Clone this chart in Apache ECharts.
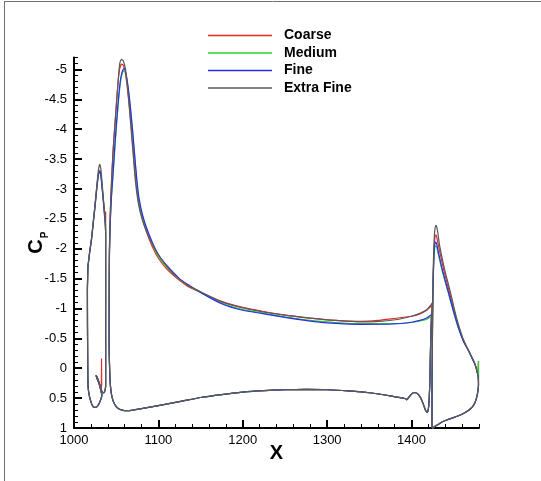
<!DOCTYPE html>
<html>
<head>
<meta charset="utf-8">
<script src="https://cdn.jsdelivr.net/npm/echarts@6/dist/echarts.min.js"></script>
<style>html,body{margin:0;padding:0;background:#fff}#c{width:541px;height:481px}</style>
</head>
<body>
<div id="c"></div>
<script>
// ---------- data (X, Cp) ----------
const seriesNames = ['Coarse', 'Medium', 'Fine', 'Extra Fine'];
const xTickLabels = [1000, 1100, 1200, 1300, 1400];
const yTickLabels = [-5, -4.5, -4, -3.5, -3, -2.5, -2, -1.5, -1, -0.5, 0, 0.5, 1];

// slat cove / lower side (shared by all grids)
const slatLower = [[1037.5,-2.2],[1037.5,0.3],[1036,0.4],[1034,0.41],[1032.6,0.37],[1030,0.25],[1027.5,0.15],[1026,0.12],[1027,0.16],[1029.5,0.25],[1032,0.38],[1033,0.45],[1031,0.55],[1028.5,0.62],[1025.5,0.655],[1023,0.65],[1020.5,0.58],[1018,0.45],[1016.7,0.3],[1016.3,0.0],[1016,-0.7],[1015.9,-1.3],[1016.5,-1.7]];
// slat upper side per grid
const slatUpperCoarse = [[1016.5,-1.7],[1018.5,-1.93],[1020.7,-2.15],[1022.8,-2.43],[1024.7,-2.68],[1026.5,-2.94],[1028,-3.14],[1029.3,-3.27],[1030.6,-3.31],[1031.8,-3.25],[1032.9,-3.1],[1034,-2.93],[1035.3,-2.75],[1036.5,-2.6],[1037.5,-2.62],[1037.5,-2.2]];
const slatUpperMedium = [[1016.5,-1.7],[1018.5,-1.93],[1020.7,-2.15],[1022.8,-2.43],[1024.7,-2.68],[1026.5,-2.94],[1028,-3.14],[1029.3,-3.26],[1030.6,-3.3],[1031.8,-3.24],[1032.9,-3.09],[1034,-2.93],[1035.3,-2.72],[1036.5,-2.52],[1037.5,-2.38],[1037.5,-2.2]];
const slatUpperFine = [[1016.5,-1.7],[1018.5,-1.93],[1020.7,-2.15],[1022.8,-2.43],[1024.7,-2.68],[1026.5,-2.94],[1028,-3.14],[1029.3,-3.26],[1030.6,-3.29],[1031.8,-3.23],[1032.9,-3.08],[1034,-2.92],[1035.3,-2.7],[1036.5,-2.5],[1037.4,-2.3],[1037.5,-2.2]];
const slatUpperExtraFine = [[1016.5,-1.7],[1018.5,-1.95],[1020.7,-2.17],[1022.8,-2.45],[1024.7,-2.72],[1026.5,-2.98],[1028,-3.2],[1029.3,-3.35],[1030.6,-3.41],[1031.8,-3.34],[1032.9,-3.17],[1034,-2.98],[1035.3,-2.75],[1036.5,-2.55],[1037.4,-2.32],[1037.5,-2.2]];
const slatCoveSpikeCoarse = [[1032.4,0.35],[1032.6,-0.16],[1032.8,0.3]];

// main element upper side per grid (trailing edge -> leading edge)
const mainUpperCoarse = [[1424.5,-1.05],[1421.8,-1.02],[1418,-0.97],[1410,-0.91],[1400,-0.87],[1378,-0.83],[1360,-0.8],[1339,-0.785],[1310,-0.8],[1280,-0.84],[1250,-0.89],[1225,-0.95],[1200,-1.02],[1175,-1.12],[1150,-1.27],[1135,-1.37],[1125,-1.47],[1110,-1.66],[1100,-1.84],[1093,-2.03],[1086,-2.28],[1081,-2.5],[1077,-2.75],[1074,-3.05],[1071,-3.5],[1067.5,-4.1],[1064,-4.6],[1061,-4.93],[1058.5,-5.07],[1056.3,-5.09],[1054,-5.0],[1052,-4.75],[1049.2,-4.2],[1046.4,-3.65],[1044.4,-3.1],[1043,-2.6],[1042,-2.0],[1041.7,-1.2],[1041.6,-0.5]];
const mainUpperMedium = [[1424.8,-0.86],[1421.8,-0.85],[1418,-0.82],[1410,-0.79],[1400,-0.765],[1378,-0.745],[1339,-0.745],[1310,-0.765],[1280,-0.8],[1250,-0.86],[1225,-0.92],[1200,-0.98],[1175,-1.09],[1150,-1.27],[1135,-1.39],[1125,-1.49],[1110,-1.69],[1100,-1.87],[1093,-2.07],[1086,-2.32],[1081,-2.55],[1077,-2.82],[1074.5,-3.12],[1072,-3.52],[1069,-4.02],[1065.5,-4.52],[1062,-4.88],[1059.8,-4.99],[1057.5,-4.95],[1055,-4.78],[1052,-4.35],[1049,-3.8],[1046.5,-3.28],[1044.5,-2.9],[1043,-2.45],[1042,-1.9],[1041.7,-1.2],[1041.6,-0.5]];
const mainUpperFine = [[1425,-0.91],[1421.8,-0.88],[1418,-0.84],[1410,-0.8],[1400,-0.77],[1378,-0.74],[1339,-0.735],[1310,-0.75],[1280,-0.79],[1250,-0.85],[1225,-0.91],[1200,-0.97],[1175,-1.08],[1150,-1.27],[1135,-1.4],[1125,-1.5],[1110,-1.72],[1100,-1.9],[1093,-2.1],[1086,-2.35],[1081,-2.58],[1077,-2.85],[1074.5,-3.15],[1072,-3.55],[1069,-4.05],[1065.5,-4.55],[1062,-4.9],[1059.5,-5.02],[1057.5,-4.98],[1055,-4.82],[1052,-4.4],[1049,-3.85],[1046.5,-3.3],[1044.5,-2.9],[1043,-2.45],[1042,-1.9],[1041.7,-1.2],[1041.6,-0.5]];
const mainUpperExtraFine = [[1424.8,-1.1],[1423,-1.06],[1418,-0.98],[1410,-0.92],[1400,-0.87],[1385,-0.82],[1365,-0.79],[1340,-0.775],[1310,-0.8],[1280,-0.84],[1250,-0.89],[1225,-0.94],[1200,-1.01],[1175,-1.11],[1150,-1.28],[1135,-1.39],[1120,-1.55],[1107,-1.76],[1098,-1.95],[1090,-2.16],[1085,-2.32],[1080,-2.53],[1076,-2.78],[1073,-3.1],[1070,-3.6],[1066.5,-4.2],[1063.5,-4.7],[1061,-5.0],[1058.5,-5.14],[1056.3,-5.17],[1054.2,-5.1],[1052.3,-4.8],[1049.2,-4.22],[1046.4,-3.66],[1044.4,-3.1],[1043,-2.6],[1042,-2.0],[1041.7,-1.2],[1041.6,-0.5]];
// main element lower side (shared, leading edge -> trailing edge)
const mainLower = [[1041.6,-0.5],[1042.2,0.0],[1043.2,0.3],[1045,0.48],[1048,0.6],[1052,0.67],[1057,0.7],[1063,0.71],[1070,0.7],[1080,0.675],[1100,0.625],[1125,0.56],[1150,0.49],[1175,0.44],[1200,0.4],[1225,0.375],[1250,0.36],[1275,0.355],[1300,0.36],[1325,0.38],[1350,0.41],[1378,0.47],[1393,0.51],[1394.5,0.525],[1396,0.5],[1399,0.45],[1402,0.41],[1405,0.41],[1408,0.44],[1411,0.5],[1414,0.6],[1416.5,0.7],[1418.5,0.74],[1420,0.68],[1421,0.5],[1421.8,0.2],[1422.5,-0.3],[1423.3,-0.7],[1424,-0.95]];

// flap upper side per grid (leading edge -> trailing edge)
const flapUpperCoarse = [[1424.3,0.98],[1424.3,0.5],[1424.5,0.0],[1424.8,-0.5],[1425.1,-1.0],[1425.7,-1.5],[1426.5,-1.9],[1427.5,-2.15],[1428.5,-2.23],[1429.5,-2.22],[1431,-2.12],[1433,-1.98],[1435.5,-1.82],[1438,-1.66],[1441,-1.49],[1444,-1.33],[1447.5,-1.13],[1450.5,-0.96],[1454,-0.78],[1457.5,-0.62],[1461,-0.49],[1465,-0.37],[1469,-0.26],[1472,-0.17],[1474.5,-0.09],[1476.5,-0.01],[1478.5,0.1],[1479.4,-0.12],[1479.4,0.28]];
const flapUpperMedium = [[1424.3,0.98],[1424.3,0.5],[1424.5,0.0],[1424.8,-0.5],[1425.1,-1.0],[1425.7,-1.45],[1426.5,-1.8],[1427.5,-2.0],[1428.7,-2.05],[1429.8,-2.03],[1431,-1.95],[1433,-1.83],[1435.5,-1.68],[1438,-1.54],[1441,-1.39],[1444,-1.24],[1447.5,-1.06],[1450.5,-0.91],[1454,-0.74],[1457.5,-0.6],[1461,-0.47],[1465,-0.36],[1469,-0.25],[1472,-0.16],[1474.5,-0.09],[1476.5,-0.01],[1478.5,0.1],[1479.4,-0.12],[1479.4,0.28]];
const flapUpperFine = [[1424.3,0.98],[1424.3,0.5],[1424.5,0.0],[1424.8,-0.5],[1425.1,-1.0],[1425.7,-1.5],[1426.5,-1.85],[1427.5,-2.06],[1428.7,-2.11],[1429.8,-2.08],[1431,-2.0],[1433,-1.87],[1435.5,-1.71],[1438,-1.57],[1441,-1.41],[1444,-1.26],[1447.5,-1.07],[1450.5,-0.92],[1454,-0.75],[1457.5,-0.6],[1461,-0.47],[1465,-0.36],[1469,-0.25],[1472,-0.16],[1474.5,-0.09],[1476.5,-0.01],[1478.3,0.1],[1479.2,0.2],[1479.4,0.28]];
const flapUpperExtraFine = [[1424.3,0.98],[1424.3,0.5],[1424.5,0.0],[1424.7,-0.5],[1425,-1.0],[1425.5,-1.5],[1426.2,-1.9],[1427,-2.2],[1428,-2.35],[1429,-2.39],[1430,-2.36],[1431.5,-2.24],[1433,-2.08],[1435,-1.93],[1437.6,-1.76],[1440.5,-1.58],[1443.5,-1.42],[1447,-1.22],[1450,-1.04],[1453.5,-0.84],[1457,-0.67],[1461,-0.5],[1465,-0.37],[1469,-0.26],[1472,-0.17],[1474.5,-0.1],[1476.5,-0.02],[1478.3,0.08],[1479.2,0.18],[1479.4,0.28]];
// flap lower side (shared, trailing edge -> leading edge)
const flapLower = [[1479.4,0.28],[1478.5,0.4],[1477,0.5],[1475,0.58],[1472,0.65],[1467,0.71],[1461,0.76],[1455,0.8],[1448,0.835],[1441,0.87],[1436,0.9],[1431,0.945],[1427,0.98],[1425,1.0],[1424.3,0.98]];

// ---------- layout ----------
const X0 = 1000, X1 = 1480, Y0 = -5.2, Y1 = 1;
const G = {left: 74, top: 57.5, width: 405, height: 370.5};
const pxX = G.width / (X1 - X0), pxY = G.height / (Y1 - Y0);
const G2 = {left: G.left, top: G.top + (-5 - Y0) * pxY, width: (1400 - X0) * pxX, height: (1 - (-5)) * pxY};

const colors = {'Coarse': '#e8262b', 'Medium': '#2fd12f', 'Fine': '#2b2bf0', 'Extra Fine': '#5a5a5a'};
const FONT = 'Liberation Sans, Arial, Helvetica, sans-serif';

const elements = {
  'Coarse': [slatUpperCoarse.concat(slatLower), slatCoveSpikeCoarse, mainUpperCoarse.concat(mainLower, [mainUpperCoarse[0]]), flapUpperCoarse.concat(flapLower)],
  'Medium': [slatUpperMedium.concat(slatLower), mainUpperMedium.concat(mainLower, [mainUpperMedium[0]]), flapUpperMedium.concat(flapLower)],
  'Fine': [slatUpperFine.concat(slatLower), mainUpperFine.concat(mainLower, [mainUpperFine[0]]), flapUpperFine.concat(flapLower)],
  'Extra Fine': [slatUpperExtraFine.concat(slatLower), mainUpperExtraFine.concat(mainLower, [mainUpperExtraFine[0]]), flapUpperExtraFine.concat(flapLower)]
};

const series = [];
seriesNames.forEach(name => {
  elements[name].forEach(part => {
    series.push({
      name: name, type: 'line', xAxisIndex: 0, yAxisIndex: 0,
      data: part, showSymbol: false, symbol: 'none', smooth: 0.2,
      lineStyle: {color: colors[name], width: 1.2}, itemStyle: {color: colors[name]},
      clip: false, animation: false, silent: true
    });
  });
});

const chart = echarts.init(document.getElementById('c'), null, {renderer: 'canvas'});
chart.setOption({
  backgroundColor: '#fff',
  animation: false,
  grid: [
    {left: G.left, top: G.top, width: G.width, height: G.height, containLabel: false},
    {left: G2.left, top: G2.top, width: G2.width, height: G2.height, containLabel: false}
  ],
  legend: {
    data: seriesNames.map(n => ({name: n, icon: 'rect', itemStyle: {color: colors[n]}})),
    orient: 'vertical', left: 208, top: 28.5, padding: 0,
    itemWidth: 64, itemHeight: 1.6, itemGap: 3.5,
    textStyle: {fontFamily: FONT, fontSize: 14, lineHeight: 14, fontWeight: 'bold', color: '#000', padding: [0, 0, 0, 7]},
    selectedMode: false
  },
  xAxis: [
    {gridIndex: 0, type: 'value', min: X0, max: X1, interval: 20,
     axisLine: {show: true, onZero: false, lineStyle: {color: '#000', width: 2}},
     axisTick: {show: true, inside: true, length: 4, lineStyle: {color: '#000', width: 1}},
     axisLabel: {show: false}, splitLine: {show: false},
     name: 'X', nameLocation: 'middle', nameGap: 15,
     nameTextStyle: {fontFamily: FONT, fontSize: 20, fontWeight: 'bold', color: '#000'}},
    {gridIndex: 1, type: 'value', min: X0, max: 1400, interval: 100,
     axisLine: {show: false, onZero: false},
     axisTick: {show: true, inside: true, length: 8, lineStyle: {color: '#000', width: 2}},
     axisLabel: {show: true, margin: 6, fontFamily: FONT, fontSize: 13, color: '#000',
       formatter: v => xTickLabels.indexOf(v) >= 0 ? String(v) : ''},
     splitLine: {show: false}}
  ],
  yAxis: [
    {gridIndex: 0, type: 'value', inverse: true, min: Y0, max: Y1, interval: 0.1,
     axisLine: {show: true, onZero: false, lineStyle: {color: '#000', width: 2}},
     axisTick: {show: true, inside: true, length: 4, lineStyle: {color: '#000', width: 1}},
     axisLabel: {show: false}, splitLine: {show: false},
     name: '{c|C}{p|P}', nameLocation: 'middle', nameGap: 28,
     nameTextStyle: {rich: {
       c: {fontFamily: FONT, fontSize: 20, fontWeight: 'bold', color: '#000'},
       p: {fontFamily: FONT, fontSize: 10, fontWeight: 'bold', color: '#000', verticalAlign: 'bottom', padding: [0, 0, -4, 1]}
     }}},
    {gridIndex: 1, type: 'value', inverse: true, min: -5, max: 1, interval: 0.5,
     axisLine: {show: false, onZero: false},
     axisTick: {show: true, inside: true, length: 8, lineStyle: {color: '#000', width: 2}},
     axisLabel: {show: true, margin: 7, fontFamily: FONT, fontSize: 13, color: '#000',
       formatter: v => { const r = Math.round(v * 10) / 10; return yTickLabels.indexOf(r) >= 0 ? String(r) : ''; }},
     splitLine: {show: false}}
  ],
  graphic: [
    {type: 'line', shape: {x1: 4, y1: 1.5, x2: 541, y2: 1.5}, style: {stroke: '#707070', lineWidth: 1}, silent: true},
    {type: 'line', shape: {x1: 4.5, y1: 1, x2: 4.5, y2: 481}, style: {stroke: '#707070', lineWidth: 1}, silent: true}
  ],
  series: series
});
</script>
</body>
</html>
